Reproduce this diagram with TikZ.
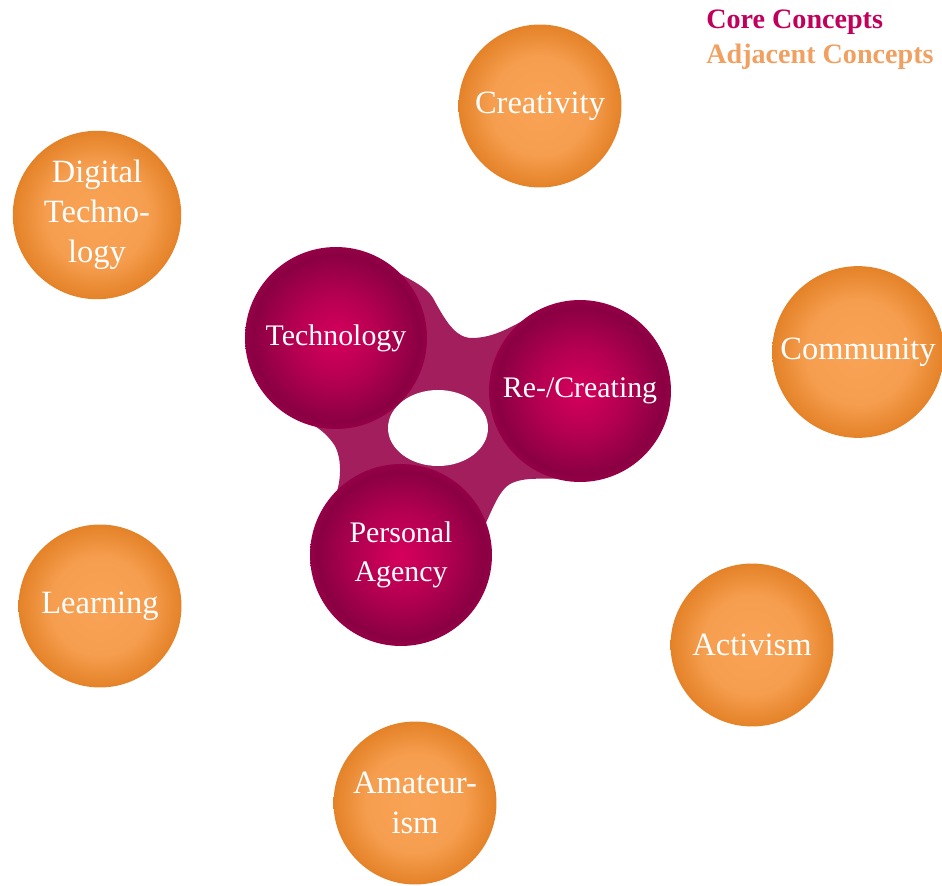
\documentclass[tikz,border=0pt]{standalone}
\usepackage{fontspec}
\setmainfont{Liberation Serif}
\usetikzlibrary{positioning,backgrounds}
\definecolor{coredark}{RGB}{138,0,66}
\definecolor{corelight}{RGB}{214,0,92}
\definecolor{coreneck}{RGB}{163,30,92}
\definecolor{adjdark}{RGB}{228,130,40}
\definecolor{adjlight}{RGB}{249,163,86}
\definecolor{corelabel}{RGB}{192,0,90}
\definecolor{adjlabel}{RGB}{240,160,96}
\pgfdeclareradialshading{adjball}{\pgfpoint{0bp}{0bp}}{color(0bp)=(adjlight); color(15bp)=(adjlight!85!adjdark); color(25bp)=(adjdark); color(50bp)=(adjdark)}
\pgfdeclareradialshading{coreball}{\pgfpoint{0bp}{0bp}}{color(0bp)=(corelight); color(12bp)=(corelight!55!coredark); color(23bp)=(coredark); color(25bp)=(coredark!85!corelight); color(50bp)=(coredark)}
\tikzset{
    %Define style for core concept bubbles
    core/.style={
           circle,
           shading=coreball,
           minimum size=3.64cm,
           text=white,
           align=center,
           font=\fontsize{17}{22}\selectfont},
    %Define style for adjacent concept bubbles
    adjacent/.style={
           circle,
           shading=adjball,
           minimum size=3.26cm,
           text=white,
           align=center,
           font=\fontsize{18.5}{22.7}\selectfont},
    % Define legend style
    legend/.style={
           anchor=base west,
           inner sep=0pt,
           font=\bfseries\fontsize{16}{20}\selectfont}
}

\begin{document}
\begin{tikzpicture}[x=0.02cm, y=-0.02cm]
		\useasboundingbox (0,0) rectangle (942,885);
		% core concepts
		\node[core] (technology) at (336,338) {Technology};
		\node[core] (recreating) at (580,391) {Re-/Creating};
		\node[core] (agency) at (401,555) {Personal\\Agency};
		% adjacent concepts
		\node[adjacent] (creativity) at (540,106) {Creativity};
		\node[adjacent] (digital) at (97,215) {Digital\\Techno-\\logy};
		\node[adjacent] (community) at (858,352) {Community};
		\node[adjacent] (learning) at (100,606) {Learning};
		\node[adjacent] (activism) at (752,645) {Activism};
		\node[adjacent] (amateurism) at (415,803) {Amateur-\\ism};
		% legend
		\node[legend, text=corelabel] (corelegend) at (706,29) {Core Concepts};
		\node[legend, text=adjlabel] (adjlegend) at (706,64) {Adjacent Concepts};
		% web between the core bubbles
		\begin{scope}[on background layer]
		\fill[coreneck] (technology.center) -- (388,266) .. controls (408,280) and (424,284) .. (433,298)
			.. controls (445,320) and (455,338) .. (472,338) .. controls (495,338) and (515,325) .. (540,311)
			-- (recreating.center) -- (565,478) .. controls (545,480) and (525,476) .. (510,484)
			.. controls (500,490) and (494,505) .. (485,525)
			-- (agency.center) -- (335,497) .. controls (342,480) and (342,455) .. (333,443)
			.. controls (325,432) and (315,425) .. (303,420) -- cycle;
		\fill[white] (438,428) ellipse [x radius=1cm, y radius=0.76cm];
		\end{scope}
	\end{tikzpicture}
\end{document}
